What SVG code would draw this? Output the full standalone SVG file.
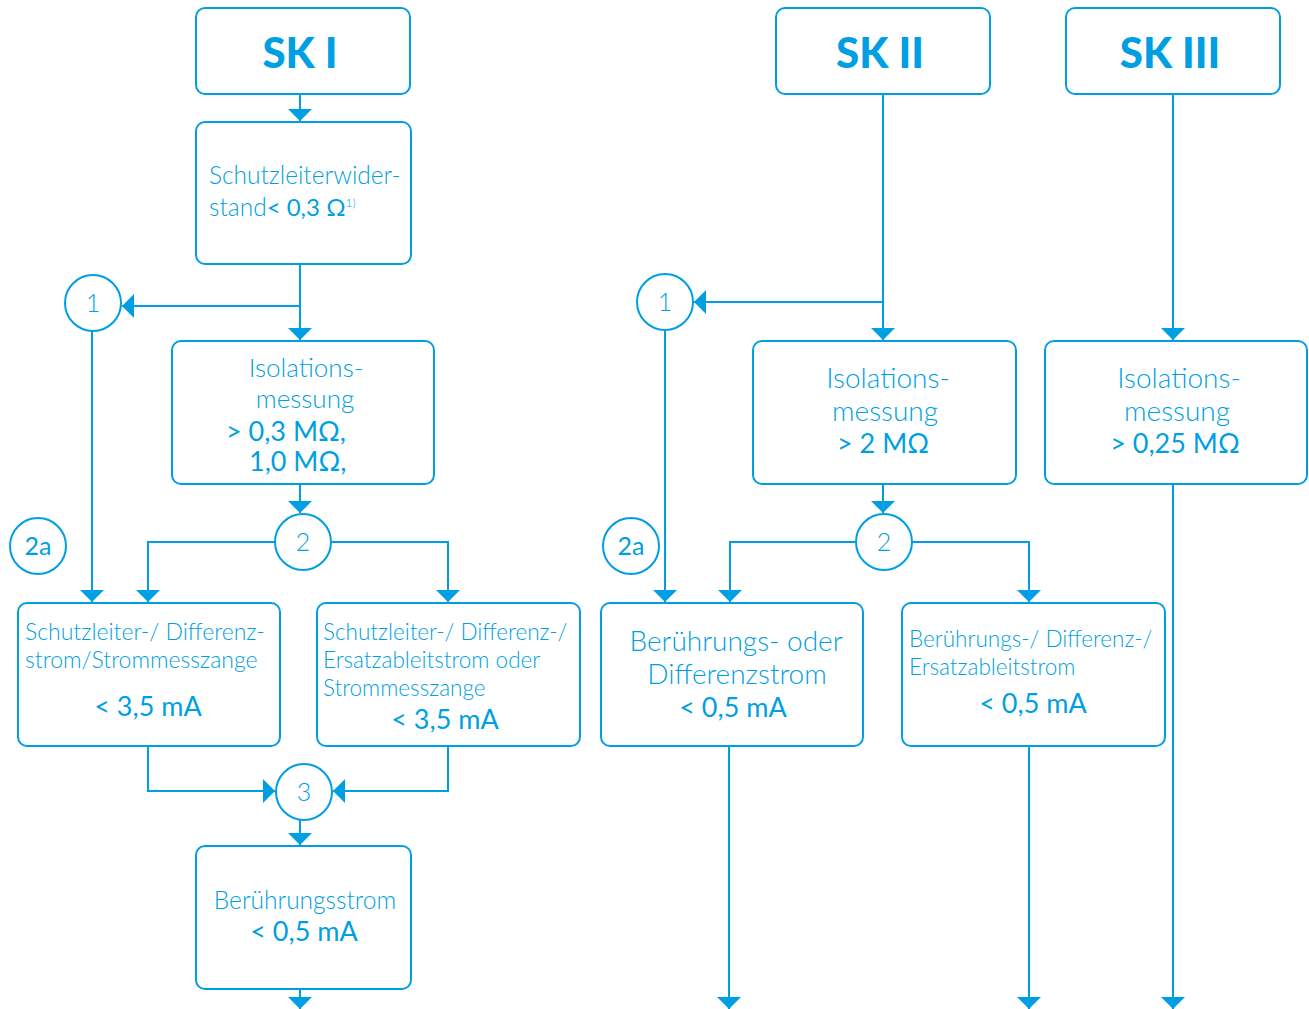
<svg xmlns="http://www.w3.org/2000/svg" width="1309" height="1009" viewBox="0 0 1309 1009">
<style>
.box{fill:#fff;stroke:#009FE3;stroke-width:2}
.c{fill:#fff;stroke:#009FE3;stroke-width:2}
.ln{fill:none;stroke:#009FE3;stroke-width:2}
.t{font-family:Lato,"Liberation Sans",sans-serif;fill:#009FE3;font-weight:300;font-size:23px}
.b{font-size:28px}
.v{font-family:Lato,"Liberation Sans",sans-serif;fill:#009FE3;font-weight:400;font-size:27px}
.h{font-family:Lato,"Liberation Sans",sans-serif;fill:#009FE3;font-weight:900;font-size:42px;text-anchor:middle}
.n{font-family:Lato,"Liberation Sans",sans-serif;fill:#009FE3;font-weight:300;font-size:25px;text-anchor:middle}
.m{text-anchor:middle}
</style>
<defs>
<marker id="a" viewBox="0 0 12 24" refX="12" refY="12" markerWidth="12" markerHeight="24" markerUnits="userSpaceOnUse" orient="auto">
<path d="M0,0 L12,12 L0,24 z" fill="#009FE3"/>
</marker>
</defs>
<g id="connectors">
<path class="ln" d="M300,94 V121" marker-end="url(#a)"/>
<path class="ln" d="M300,264 V340" marker-end="url(#a)"/>
<path class="ln" d="M300,306 H122" marker-end="url(#a)"/>
<path class="ln" d="M300,484 V513" marker-end="url(#a)"/>
<path class="ln" d="M92,331 V602" marker-end="url(#a)"/>
<path class="ln" d="M275,542 H148 V602" marker-end="url(#a)"/>
<path class="ln" d="M331,542 H448 V602" marker-end="url(#a)"/>
<path class="ln" d="M148,746 V791 H275" marker-end="url(#a)"/>
<path class="ln" d="M448,746 V791 H333" marker-end="url(#a)"/>
<path class="ln" d="M300,820 V845" marker-end="url(#a)"/>
<path class="ln" d="M300,989 V1009" marker-end="url(#a)"/>
<path class="ln" d="M883,94 V340" marker-end="url(#a)"/>
<path class="ln" d="M883,302 H694" marker-end="url(#a)"/>
<path class="ln" d="M883,484 V513" marker-end="url(#a)"/>
<path class="ln" d="M665,331 V602" marker-end="url(#a)"/>
<path class="ln" d="M856,542 H730 V602" marker-end="url(#a)"/>
<path class="ln" d="M912,542 H1029 V602" marker-end="url(#a)"/>
<path class="ln" d="M729,746 V1009" marker-end="url(#a)"/>
<path class="ln" d="M1029,746 V1009" marker-end="url(#a)"/>
<path class="ln" d="M1173,94 V340" marker-end="url(#a)"/>
<path class="ln" d="M1173,484 V1009" marker-end="url(#a)"/>
</g>
<g id="sk1">
<rect class="box" x="196" y="8" width="214" height="86" rx="9"/>
<text class="h" x="300" y="68">SK I</text>
</g>
<g id="schutzleiterwiderstand">
<rect class="box" x="196" y="122" width="215" height="142" rx="9"/>
<text class="t" x="209" y="184" style="font-size:24.5px">Schutzleiterwider-</text>
<text class="t" x="209" y="216" style="font-size:24.5px">stand<tspan class="v" style="font-size:24px">&lt; 0,3 Ω</tspan><tspan font-size="12" dy="-9">1)</tspan></text>
</g>
<g id="c1a">
<circle class="c" cx="93" cy="303" r="28"/>
<text class="n" x="93" y="312">1</text>
</g>
<g id="iso1">
<rect class="box" x="172" y="341" width="262" height="143" rx="9"/>
<text class="t m" x="306" y="377" style="font-size:26px">Isolations-</text>
<text class="t m" x="305" y="408" style="font-size:26px">messung</text>
<text class="v" x="226" y="441">&gt; 0,3 MΩ,</text>
<text class="v" x="249" y="471">1,0 MΩ,</text>
</g>
<g id="c2a_1">
<circle class="c" cx="38" cy="546" r="28"/>
<text class="n" x="38" y="555" style="font-weight:400">2a</text>
</g>
<g id="c2_1">
<circle class="c" cx="303" cy="542" r="28"/>
<text class="n" x="303" y="551">2</text>
</g>
<g id="boxA">
<rect class="box" x="18" y="603" width="262" height="143" rx="9"/>
<text class="t" x="25" y="640">Schutzleiter-/ Differenz-</text>
<text class="t" x="25" y="668">strom/Strommesszange</text>
<text class="v m" x="148" y="716">&lt; 3,5 mA</text>
</g>
<g id="boxB">
<rect class="box" x="317" y="603" width="263" height="143" rx="9"/>
<text class="t" x="323" y="640" style="font-size:22.5px">Schutzleiter-/ Differenz-/</text>
<text class="t" x="323" y="668" style="font-size:22.5px">Ersatzableitstrom oder</text>
<text class="t" x="323" y="696" style="font-size:22.5px">Strommesszange</text>
<text class="v m" x="445" y="729">&lt; 3,5 mA</text>
</g>
<g id="c3">
<circle class="c" cx="304" cy="792" r="28"/>
<text class="n" x="304" y="801">3</text>
</g>
<g id="beruehrungsstrom">
<rect class="box" x="196" y="846" width="215" height="143" rx="9"/>
<text class="t m" x="305" y="909" style="font-size:24.5px">Berührungsstrom</text>
<text class="v m" x="304" y="941">&lt; 0,5 mA</text>
</g>
<g id="sk2">
<rect class="box" x="776" y="8" width="214" height="86" rx="9"/>
<text class="h" x="880" y="68">SK II</text>
</g>
<g id="c1b">
<circle class="c" cx="665" cy="302" r="28"/>
<text class="n" x="665" y="311">1</text>
</g>
<g id="iso2">
<rect class="box" x="753" y="341" width="263" height="143" rx="9"/>
<text class="t b m" x="888" y="388">Isolations-</text>
<text class="t b m" x="885" y="421">messung</text>
<text class="v" x="837" y="453">&gt; 2 MΩ</text>
</g>
<g id="c2a_2">
<circle class="c" cx="631" cy="546" r="28"/>
<text class="n" x="631" y="555" style="font-weight:400">2a</text>
</g>
<g id="c2_2">
<circle class="c" cx="884" cy="542" r="28"/>
<text class="n" x="884" y="551">2</text>
</g>
<g id="boxC">
<rect class="box" x="601" y="603" width="262" height="143" rx="9"/>
<text class="t b m" x="736" y="651">Berührungs- oder</text>
<text class="t b m" x="737" y="684">Differenzstrom</text>
<text class="v m" x="733" y="717">&lt; 0,5 mA</text>
</g>
<g id="boxD">
<rect class="box" x="902" y="603" width="263" height="143" rx="9"/>
<text class="t" x="909" y="647" style="font-size:22.5px">Berührungs-/ Differenz-/</text>
<text class="t" x="909" y="675" style="font-size:22.5px">Ersatzableitstrom</text>
<text class="v m" x="1033" y="713">&lt; 0,5 mA</text>
</g>
<g id="sk3">
<rect class="box" x="1066" y="8" width="214" height="86" rx="9"/>
<text class="h" x="1170" y="68">SK III</text>
</g>
<g id="iso3">
<rect class="box" x="1045" y="341" width="262" height="143" rx="9"/>
<text class="t b m" x="1179" y="388">Isolations-</text>
<text class="t b m" x="1177" y="421">messung</text>
<text class="v m" x="1175" y="453">&gt; 0,25 MΩ</text>
</g>
</svg>
